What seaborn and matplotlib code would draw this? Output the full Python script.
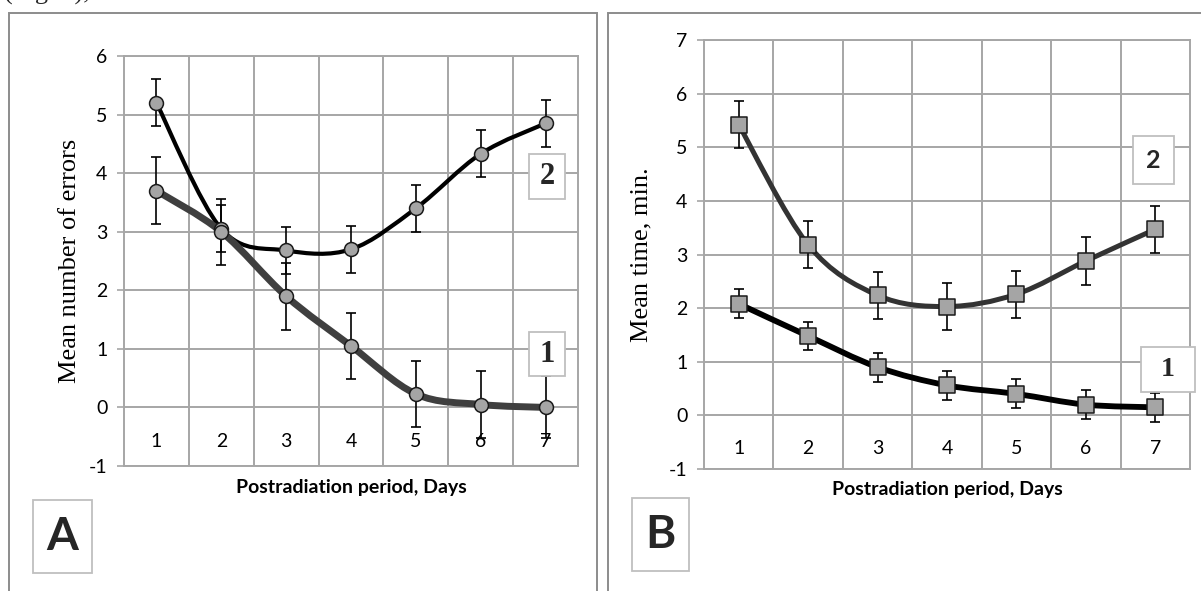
import numpy as np
import pandas as pd
import matplotlib
matplotlib.use('Agg')
import matplotlib.pyplot as plt
from matplotlib.path import Path
from matplotlib.patches import PathPatch, Rectangle
import seaborn as sns

# Data
days = [1, 2, 3, 4, 5, 6, 7]
day_labels = ['1', '2', '3', '4', '5', '6', '7']

# A: mean number of errors
errors_1 = [3.7, 3.0, 1.9, 1.05, 0.23, 0.05, 0.0]
errors_1_err = [0.57, 0.56, 0.57, 0.57, 0.57, 0.57, 0.53]
errors_2 = [5.2, 3.05, 2.68, 2.7, 3.4, 4.33, 4.85]
errors_2_err = [0.4, 0.4, 0.4, 0.4, 0.4, 0.4, 0.4]

# B: mean time, min.
time_1 = [2.08, 1.48, 0.9, 0.56, 0.4, 0.2, 0.15]
time_1_err = [0.27, 0.27, 0.27, 0.27, 0.27, 0.27, 0.27]
time_2 = [5.42, 3.18, 2.24, 2.03, 2.26, 2.88, 3.47]
time_2_err = [0.44, 0.44, 0.44, 0.44, 0.44, 0.44, 0.44]

W, H = 1201, 591

sns.set_theme(style="white")
plt.rcParams['font.family'] = ['Lato', 'DejaVu Sans']
plt.rcParams['axes.unicode_minus'] = False

fig = plt.figure(figsize=(W / 100, H / 100), dpi=100)


def px_box(x0, y0, x1, y1):
    # pixel box (top-left origin) -> figure fraction [l, b, w, h]
    return [x0 / W, 1 - y1 / H, (x1 - x0) / W, (y1 - y0) / H]


def smooth_path(x, y):
    # excel-like smoothed line through the points (cubic bezier)
    pts = np.column_stack([x, y]).astype(float)
    n = len(pts)
    verts = [pts[0]]
    codes = [Path.MOVETO]
    for i in range(n - 1):
        p0 = pts[max(i - 1, 0)]
        p1 = pts[i]
        p2 = pts[i + 1]
        p3 = pts[min(i + 2, n - 1)]
        verts += [p1 + (p2 - p0) / 6, p2 - (p3 - p1) / 6, p2]
        codes += [Path.CURVE4] * 3
    return Path(verts, codes)


def label_box(x0, y0, x1, y1, text, size, family, weight='bold'):
    l, b, w, h = px_box(x0, y0, x1, y1)
    fig.add_artist(Rectangle((l, b), w, h, transform=fig.transFigure,
                             facecolor='white', edgecolor='#bfbfbf', lw=1.3))
    fig.text(l + w / 2, b + h / 2, text, ha='center', va='center',
             fontsize=size, family=family, weight=weight)


def setup_axes(ax, ymin, ymax, ylabel, label_x, tick_pad):
    ax.set_xlim(0.5, 7.5)
    ax.set_ylim(ymin, ymax)
    ax.set_yticks(range(ymin, ymax + 1))
    ax.set_xticks(days)
    ax.set_xticklabels(day_labels)
    ax.set_xticks(np.arange(1.5, 7.5, 1), minor=True)
    ax.grid(False)
    ax.grid(True, which='minor', axis='x', color='#a6a6a6', lw=1.4)
    ax.grid(True, which='major', axis='y', color='#a6a6a6', lw=1.4)
    ax.set_axisbelow(True)
    for s in ax.spines.values():
        s.set_color('#a6a6a6')
        s.set_linewidth(1.4)
    ax.tick_params(axis='y', left=True, length=5, width=1.2, color='#a6a6a6',
                   pad=7, labelsize=14, labelcolor='black')
    ax.tick_params(axis='x', which='both', length=0, pad=tick_pad,
                   labelsize=14, labelcolor='black')
    ax.set_xlabel('Postradiation period, Days', fontsize=14,
                  fontweight='bold', color='black')
    ax.xaxis.label.set_va('center')
    ax.set_ylabel(ylabel, fontsize=19, family='Liberation Serif', color='black')
    ax.yaxis.label.set_va('center')
    ax.yaxis.set_label_coords(label_x, 0.5)
    ax.set_facecolor('white')


def draw_series(ax, vals, errs, color, lw, marker, msize):
    ax.errorbar(days, vals, yerr=errs, fmt='none', ecolor='black',
                elinewidth=1.2, capsize=3.6, capthick=1.2, zorder=3)
    ax.add_patch(PathPatch(smooth_path(days, vals), facecolor='none',
                           edgecolor=color, lw=lw, capstyle='round',
                           joinstyle='round', zorder=4))
    df = pd.DataFrame({'day': days, 'value': vals})
    sns.scatterplot(data=df, x='day', y='value', ax=ax, marker=marker,
                    s=msize, color='#a5a5a5', edgecolor='#1a1a1a',
                    linewidth=1.1, zorder=5, legend=False)


# outer panel frames
for x0, x1 in [(9, 597), (608, 1215)]:
    l, b, w, h = px_box(x0, 13, x1, 620)
    fig.add_artist(Rectangle((l, b), w, h, transform=fig.transFigure,
                             facecolor='none', edgecolor='#8c8c8c', lw=1.4,
                             clip_on=False))

# caption text of the page, cut by the top edge as in the source
fig.text(4 / W, 1.0, '(Fig. 1),', fontsize=19, family='Liberation Serif',
         va='baseline', ha='left')

# Panel A
axA = fig.add_axes(px_box(124, 56, 578, 466))
setup_axes(axA, -1, 6, 'Mean number of errors', (70 - 124) / 454, -24)
axA.xaxis.set_label_coords(0.5, -(487 - 466) / 410)
draw_series(axA, errors_2, errors_2_err, 'black', 3.0, 'o', 100)
draw_series(axA, errors_1, errors_1_err, '#3f3f3f', 5.0, 'o', 100)
axA.set_xlabel('Postradiation period, Days')

# Panel B
axB = fig.add_axes(px_box(704, 40, 1190, 469))
setup_axes(axB, -1, 7, 'Mean time, min.', (641 - 704) / 486, -21)
axB.xaxis.set_label_coords(0.5, -(490 - 469) / 429)
draw_series(axB, time_2, time_2_err, '#333333', 3.6, 's', 130)
draw_series(axB, time_1, time_1_err, 'black', 4.2, 's', 130)
axB.set_xlabel('Postradiation period, Days')

# series number boxes and panel letters
label_box(529, 154, 565, 199, '2', 22, 'Liberation Serif')
label_box(529, 332, 565, 376, '1', 22, 'Liberation Serif')
label_box(33, 500, 92, 573, 'A', 33, 'Lato')
label_box(1133, 136, 1174, 184, '2', 18, 'Lato')
label_box(1141, 347, 1195, 392, '1', 20, 'Liberation Serif')
label_box(632, 498, 689, 571, 'B', 33, 'Lato')

fig.savefig('out.png', dpi=100)
